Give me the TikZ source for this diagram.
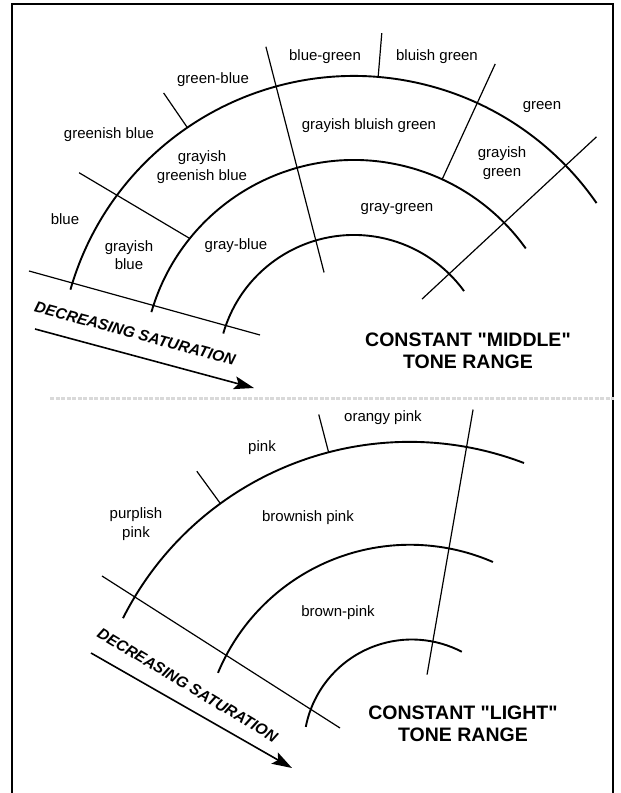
\documentclass[tikz,border=0pt]{standalone}
\usepackage{fontspec}
\setmainfont{Liberation Sans}[Ligatures=TeXOff]
\usetikzlibrary{arrows.meta,calc}

\begin{document}
\begin{tikzpicture}[x=1pt,y=1pt,
  band/.style={line width=1.9pt},
  divider/.style={line width=1.2pt},
  lbl/.style={font=\fontsize{15}{18.5}\selectfont, inner sep=0pt, align=center},
  heading/.style={font=\fontsize{19.5}{22}\selectfont\bfseries, align=center, inner sep=0pt},
  satlabel/.style={font=\fontsize{15.5}{18}\selectfont\bfseries\itshape, inner sep=0pt},
  satarrow/.style={line width=1.6pt, -{Stealth[length=20pt,width=13pt,inset=4pt]}},
  framerule/.style={line width=1.2pt}]
\useasboundingbox (0,0) rectangle (621,793);

% page frame (open at the bottom)
\coordinate (fbl) at (12,0);
\coordinate (ftl) at (12,789);
\coordinate (ftr) at (613,789);
\coordinate (fbr) at (613,0);
\draw[framerule] (fbl) -- (ftl) -- (ftr) -- (fbr);

% faint rule between the two charts
\coordinate (sepL) at (50,394);
\coordinate (sepR) at (614,394);
\draw[gray!30, line width=3pt, dash pattern=on 4pt off 1.5pt] (sepL) -- (sepR);

% ---------------- middle tone range ----------------
\coordinate (ct) at (354,422);
\draw[band] ($(ct)+(164:295)$) arc[start angle=164, end angle=34.7, radius=295];
\draw[band] ($(ct)+(163.8:211)$) arc[start angle=163.8, end angle=35.5, radius=211];
\draw[band] ($(ct)+(164:136)$) arc[start angle=164, end angle=36, radius=136];

\coordinate (a1) at ($(ct)+(124.4:295)$);
\coordinate (a2) at ($(ct)+(124.4:337)$);
\coordinate (b1) at ($(ct)+(144.2:339)$);
\coordinate (b2) at ($(ct)+(141.1:211)$);
\coordinate (c1) at ($(ct)+(105.2:336)$);
\coordinate (c2) at ($(ct)+(106.9:103)$);
\coordinate (d1) at ($(ct)+(85.3:295)$);
\coordinate (d2) at ($(ct)+(85.3:339)$);
\coordinate (e1) at ($(ct)+(65.3:338)$);
\coordinate (e2) at ($(ct)+(65.3:211)$);
\coordinate (f1) at ($(ct)+(44:337)$);
\coordinate (f2) at ($(ct)+(46.6:99)$);
\draw[divider] (a1) -- (a2);
\draw[divider] (b1) -- (b2);
\draw[divider] (c1) -- (c2);
\draw[divider] (d1) -- (d2);
\draw[divider] (e1) -- (e2);
\draw[divider] (f1) -- (f2);

\coordinate (st1) at (29,522);
\coordinate (st2) at (260,458);
\draw[divider] (st1) -- (st2);
\coordinate (at1) at (35,464);
\coordinate (at2) at (254,405);
\draw[satarrow] (at1) -- (at2);

\node[lbl] (bg)   at (325,736) {blue-green};
\node[lbl] (blg)  at (437,736) {bluish green};
\node[lbl] (gb)   at (213,713) {green-blue};
\node[lbl] (gr)   at (542,686) {green};
\node[lbl] (gnb)  at (109,658) {greenish blue};
\node[lbl] (gblg) at (369,667) {grayish bluish green};
\node[lbl] (ggnb) at (202,626) {grayish\\greenish blue};
\node[lbl] (ggr)  at (502,630) {grayish\\green};
\node[lbl] (bl)   at (65,574)  {blue};
\node[lbl] (gyg)  at (397,584) {gray-green};
\node[lbl] (gbl)  at (129,538) {grayish\\blue};
\node[lbl] (gyb)  at (236,547) {gray-blue};
\node[satlabel, rotate=-15] (dsT) at (135,459.5) {DECREASING SATURATION};
\node[heading] (hT) at (468,442) {CONSTANT "MIDDLE"\\TONE RANGE};

% ---------------- light tone range ----------------
\coordinate (cbo) at (409.5,30.1);
\coordinate (cbm) at (410,40.25);
\coordinate (cbi) at (411.8,45.5);
\draw[band] ($(cbo)+(153.2:321)$) arc[start angle=153.2, end angle=69.1, radius=321];
\draw[band] ($(cbm)+(157.4:208)$) arc[start angle=157.4, end angle=66.5, radius=208];
\draw[band] ($(cbi)+(169:108)$) arc[start angle=169, end angle=62.4, radius=108];

\coordinate (p1) at ($(cbo)+(126.1:321)$);
\coordinate (p2) at ($(cbo)+(126.1:361)$);
\coordinate (q1) at ($(cbo)+(104.6:321)$);
\coordinate (q2) at ($(cbo)+(104.6:360)$);
\coordinate (r1) at ($(cbo)+(79.8:359)$);
\coordinate (r2) at ($(cbo)+(78.75:90)$);
\draw[divider] (p1) -- (p2);
\draw[divider] (q1) -- (q2);
\draw[divider] (r1) -- (r2);

\coordinate (sb1) at (102,217);
\coordinate (sb2) at (340,65);
\draw[divider] (sb1) -- (sb2);
\coordinate (ab1) at (91,140);
\coordinate (ab2) at (292,25);
\draw[satarrow] (ab1) -- (ab2);

\node[lbl] (op)  at (383,375) {orangy pink};
\node[lbl] (pk)  at (262,345) {pink};
\node[lbl] (pp)  at (136,269) {purplish\\pink};
\node[lbl] (brp) at (308,275) {brownish pink};
\node[lbl] (bwp) at (338,180) {brown-pink};
\node[satlabel, rotate=-31] (dsB) at (187.5,108) {DECREASING SATURATION};
\node[heading] (hB) at (463,69.5) {CONSTANT "LIGHT"\\TONE RANGE};
\end{tikzpicture}
\end{document}
